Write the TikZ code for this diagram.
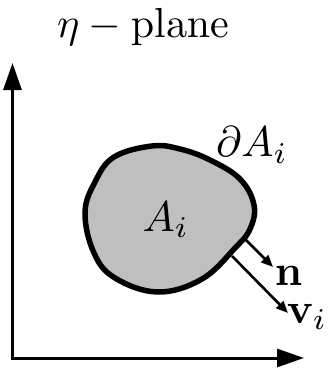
\documentclass[tikz,border=0pt]{standalone}
\usetikzlibrary{arrows.meta}
\begin{document}
\begin{tikzpicture}[x=1pt,y=-1pt,
  axis/.style={line width=3pt,-{Triangle[length=27pt,width=18pt]}},
  vec/.style={line width=2.6pt,-{Triangle[length=12pt,width=10pt]}},
  lbl/.style={inner sep=0pt,scale=4.3}]
\useasboundingbox (0,0) rectangle (330,369);
% title
\node[inner sep=0pt,scale=4.2] (title) at (143,27) {$\eta-\mathrm{plane}$};
% axes
\coordinate (o) at (12.5,358);
\coordinate (ytip) at (12.5,63);
\coordinate (xtip) at (304,358);
\draw[axis] (o) -- (ytip);
\draw[axis] ([xshift=-1.5pt]o) -- (xtip);
% blob
\draw[line width=5.5pt,fill=black!25] plot[smooth cycle,tension=0.65] coordinates{
 (152,146) (180,149) (210,160) (240,179) (254,205) (250,229) (235,248)
 (202,279) (158,292) (115,278) (94,253) (85,213) (95,182) (114,157)};
\node[lbl] (A) at (166,220) {$A_i$};
\node[lbl] (dA) at (252,145) {$\partial A_i$};
% vectors
\coordinate (n0) at (245,239);
\coordinate (v0) at (232,256);
\node[lbl,anchor=west] (n) at (274,276) {$\mathbf{n}$};
\node[lbl,anchor=west] (v) at (286,317) {$\mathbf{v}_i$};
\draw[vec] (n0) -- (273,267) coordinate (ntip);
\draw[vec] (v0) -- (288,313) coordinate (vtip);
\end{tikzpicture}
\end{document}
